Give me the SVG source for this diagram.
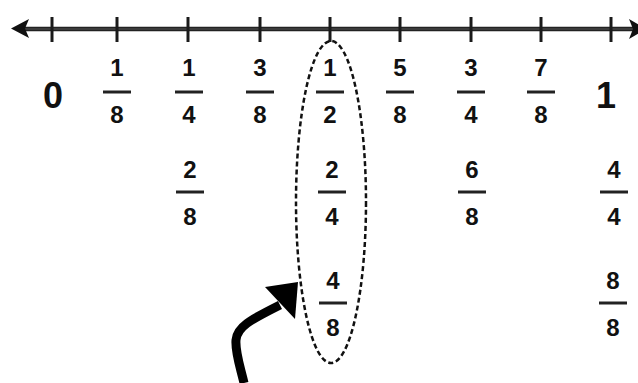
<svg xmlns="http://www.w3.org/2000/svg" width="638" height="383" viewBox="0 0 638 383">
<style>
.t{font-family:"Liberation Sans",Arial,sans-serif;font-weight:bold;fill:#111;text-anchor:middle}
.f{font-size:24px}
.big{font-size:36px}
.bar{stroke:#222;stroke-width:3}
.tick{stroke:#1a1a1a;stroke-width:3}
</style>
<defs>
<g id="barshape"><line class="bar" x1="-14" y1="0" x2="14" y2="0"/></g>
</defs>
<rect width="638" height="383" fill="#fff"/>
<g id="numberline">
<line x1="20" y1="29" x2="634" y2="29" stroke="#222" stroke-width="4.5"/>
<line x1="20" y1="29" x2="634" y2="29" stroke="#555" stroke-width="1"/>
<polygon points="11,28.5 29,19 25,28.5 29,38" fill="#111"/>
<polygon points="629,19 646,29 629,39 633,29" fill="#111"/>
<g class="tick">
<line x1="52" y1="17" x2="52" y2="42"/>
<line x1="117" y1="17" x2="117" y2="42"/>
<line x1="188" y1="17" x2="188" y2="42"/>
<line x1="260" y1="17" x2="260" y2="42"/>
<line x1="330" y1="17" x2="330" y2="42"/>
<line x1="400" y1="17" x2="400" y2="42"/>
<line x1="471" y1="17" x2="471" y2="42"/>
<line x1="541" y1="17" x2="541" y2="42"/>
<line x1="611" y1="17" x2="611" y2="42"/>
</g>
</g>
<g id="n0"><text class="t big" x="53" y="108">0</text></g>
<g id="n1"><text class="t big" x="606" y="108">1</text></g>
<g id="f1_8"><text class="t f" x="117" y="76">1</text><use href="#barshape" x="117" y="92"/><text class="t f" x="117" y="123">8</text></g>
<g id="f1_4"><text class="t f" x="189" y="76">1</text><use href="#barshape" x="189" y="92"/><text class="t f" x="189" y="123">4</text></g>
<g id="f3_8"><text class="t f" x="260" y="76">3</text><use href="#barshape" x="260" y="92"/><text class="t f" x="260" y="123">8</text></g>
<g id="f1_2"><text class="t f" x="330" y="76">1</text><use href="#barshape" x="330" y="92"/><text class="t f" x="330" y="123">2</text></g>
<g id="f5_8"><text class="t f" x="400" y="76">5</text><use href="#barshape" x="400" y="92"/><text class="t f" x="400" y="123">8</text></g>
<g id="f3_4"><text class="t f" x="471" y="76">3</text><use href="#barshape" x="471" y="92"/><text class="t f" x="471" y="123">4</text></g>
<g id="f7_8"><text class="t f" x="541" y="76">7</text><use href="#barshape" x="541" y="92"/><text class="t f" x="541" y="123">8</text></g>
<g id="f2_8"><text class="t f" x="190" y="178">2</text><use href="#barshape" x="190" y="192"/><text class="t f" x="190" y="225">8</text></g>
<g id="f2_4"><text class="t f" x="332" y="178">2</text><use href="#barshape" x="332" y="192"/><text class="t f" x="332" y="225">4</text></g>
<g id="f6_8"><text class="t f" x="472" y="178">6</text><use href="#barshape" x="472" y="192"/><text class="t f" x="472" y="225">8</text></g>
<g id="f4_4"><text class="t f" x="614" y="178">4</text><use href="#barshape" x="614" y="192"/><text class="t f" x="614" y="225">4</text></g>
<g id="f4_8"><text class="t f" x="333" y="289">4</text><use href="#barshape" x="333" y="303"/><text class="t f" x="333" y="336">8</text></g>
<g id="f8_8"><text class="t f" x="613" y="289">8</text><use href="#barshape" x="613" y="303"/><text class="t f" x="613" y="336">8</text></g>
<g id="highlight"><ellipse cx="331" cy="202" rx="35" ry="161" fill="none" stroke="#111" stroke-width="2.5" stroke-dasharray="5 3"/></g>
<g id="connectors">
<path d="M244 383 C240 366 235 352 236 340 C237 327 250 320 280 305" fill="none" stroke="#000" stroke-width="9"/>
<polygon points="265,287 298,282 295,319" fill="#000"/>
</g>
</svg>
